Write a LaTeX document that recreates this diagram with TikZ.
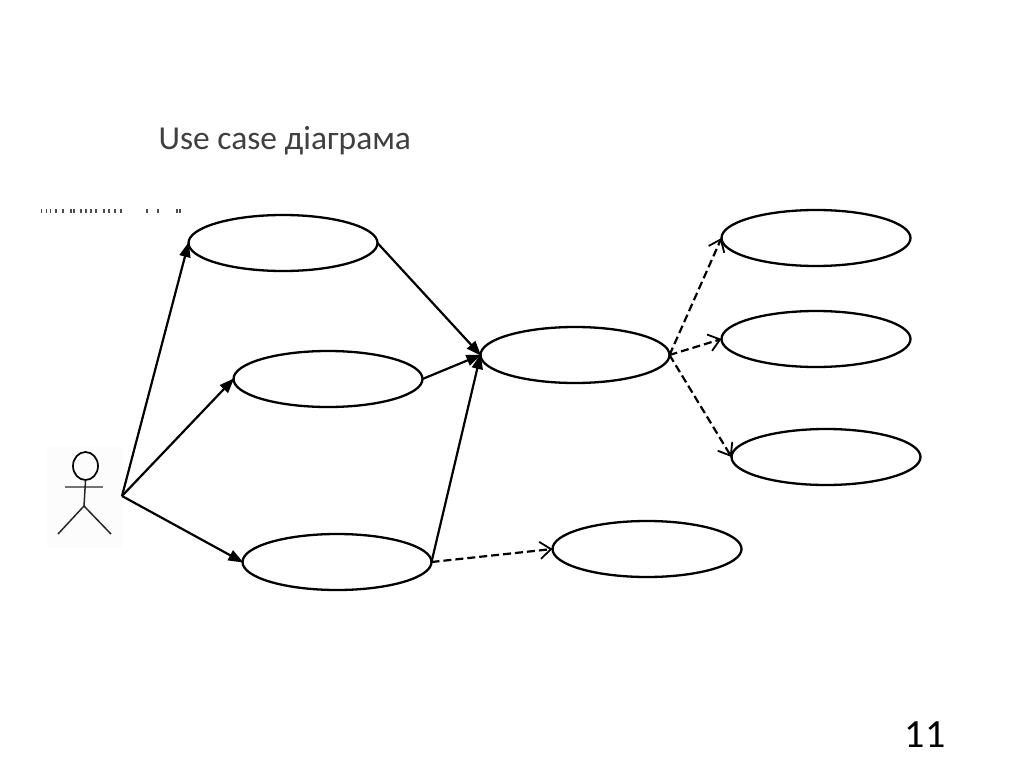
\documentclass[tikz,border=0pt]{standalone}
\usepackage{fontspec}
\setmainfont{Carlito}
\usetikzlibrary{shapes.geometric,arrows.meta}
\tikzset{
  usecase/.style={draw=black,ellipse,line width=2.3pt,minimum width=189pt,minimum height=56pt,inner sep=0pt,outer sep=0pt},
  assoc/.style={line width=2.2pt,draw=black,-{Triangle[length=15pt,width=11pt]},shorten >=-1pt},
  dep/.style={line width=2.2pt,draw=black,dash pattern=on 8pt off 4pt,-{Straight Barb[length=11pt,width=17pt,line width=1.8pt]}},
  stick/.style={line width=1.5pt,draw=black!85},
}
\begin{document}
\begin{tikzpicture}[x=1pt,y=-1pt]
\useasboundingbox[fill=white] (0,0) rectangle (1024,767);
\fill[black!1] (47,447) rectangle (122,548);
\node[anchor=west,text=black!75,font=\fontsize{33.5}{36}\selectfont] (title) at (155,141) {Use case діаграма};
\node[anchor=base,text=black,font=\fontsize{40}{44}\selectfont] (page) at (925,747) {11};
\foreach \x/\w in {41/1,46/1,50/1,55/1.5,62/1.5,70/2,73/2,80/2,85/2,90/2,95/2,103/2,108/2,114/2,120/2,146/2,157/2,176/2,179/2}
  \fill[black!70] (\x,209.5) rectangle +(\w,3.5);
\node[usecase] (u1) at (283,243) {};
\node[usecase] (u2) at (328,379) {};
\node[usecase] (u3) at (337,562) {};
\node[usecase] (c) at (575,355) {};
\node[usecase] (r1) at (816,238) {};
\node[usecase] (r2) at (816,339) {};
\node[usecase] (r3) at (826,457) {};
\node[usecase] (b) at (647,549) {};
\node[draw=black,ellipse,line width=1.7pt,minimum width=25pt,minimum height=28pt,inner sep=0pt] (head) at (85.5,466) {};
\coordinate (arml) at (65,487);
\coordinate (armr) at (103,487);
\coordinate (hip) at (84,506);
\coordinate (legl) at (58,534);
\coordinate (legr) at (111,534);
\coordinate (hub) at (122,496);
\draw[line width=2.2pt,draw=black!55] (arml) -- (armr);
\draw[stick] (head.south) -- (hip);
\draw[stick] (legl) -- (hip) -- (legr);
\draw[assoc] (hub) -- (u1.west);
\draw[assoc] (hub) -- (u2.west);
\draw[assoc] (hub) -- (u3.west);
\draw[assoc] (u1.east) -- (c.west);
\draw[assoc] (u2.east) -- (c.west);
\draw[assoc] (u3.east) -- (c.west);
\draw[dep] (c.east) -- (r1.west);
\draw[dep] (c.east) -- (r2.west);
\draw[dep] (c.east) -- (r3.west);
\draw[dep] (u3.east) -- (b.west);
\end{tikzpicture}
\end{document}
